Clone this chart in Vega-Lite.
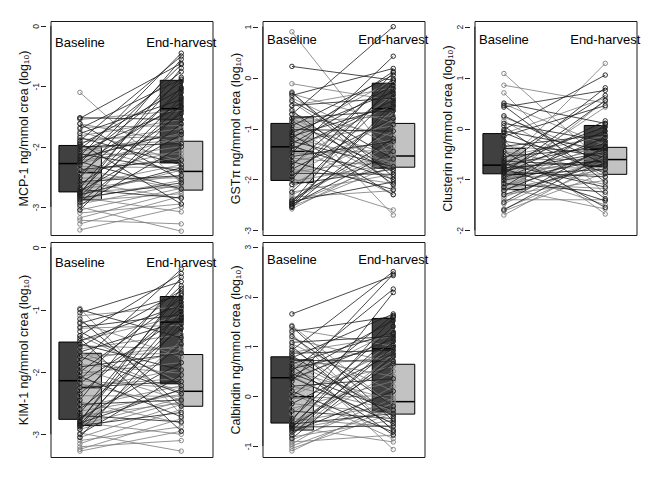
{
"$schema":"https://vega.github.io/schema/vega-lite/v6.json",
"background":"white",
"padding":{"left":16.5,"top":20,"right":5,"bottom":5},
"config":{
 "font":"Liberation Sans",
 "view":{"stroke":"#1a1a1a","strokeWidth":1},
 "axisX":{"disable":true},
 "axisY":{"domain":false,"grid":false,"offset":5,"tickSize":5,"tickColor":"#222","ticks":true,"labelAngle":-90,"labelAlign":"center","labelBaseline":"bottom","labelFontSize":8.5,"labelPadding":0,"labelColor":"#222","labelExpr":"'' + datum.value","labelFlush":false,"labelOverlap":false,"titleFontSize":12.5,"titleFontWeight":"normal","titleColor":"#111","titlePadding":1}
},
"datasets":{
"labels":[{"t":1,"name":"Baseline"},{"t":2,"name":"End-harvest"}],
"boxes":[
{"p":1,"g":"D","t":1,"q1":-2.75,"med":-2.28,"q3":-1.98},{"p":1,"g":"L","t":1,"q1":-2.88,"med":-2.43,"q3":-2.00},{"p":1,"g":"D","t":2,"q1":-2.27,"med":-1.37,"q3":-0.90},{"p":1,"g":"L","t":2,"q1":-2.72,"med":-2.41,"q3":-1.91},
{"p":2,"g":"D","t":1,"q1":-2.02,"med":-1.36,"q3":-0.90},{"p":2,"g":"L","t":1,"q1":-2.06,"med":-1.45,"q3":-0.77},{"p":2,"g":"D","t":2,"q1":-1.78,"med":-0.61,"q3":-0.11},{"p":2,"g":"L","t":2,"q1":-1.76,"med":-1.54,"q3":-0.90},
{"p":3,"g":"D","t":1,"q1":-0.89,"med":-0.72,"q3":-0.10},{"p":3,"g":"L","t":1,"q1":-1.20,"med":-0.90,"q3":-0.39},{"p":3,"g":"D","t":2,"q1":-0.75,"med":-0.41,"q3":0.06},{"p":3,"g":"L","t":2,"q1":-0.90,"med":-0.61,"q3":-0.37},
{"p":4,"g":"D","t":1,"q1":-2.76,"med":-2.14,"q3":-1.52},{"p":4,"g":"L","t":1,"q1":-2.86,"med":-2.25,"q3":-1.70},{"p":4,"g":"D","t":2,"q1":-2.19,"med":-1.20,"q3":-0.79},{"p":4,"g":"L","t":2,"q1":-2.55,"med":-2.31,"q3":-1.72},
{"p":5,"g":"D","t":1,"q1":-0.54,"med":0.37,"q3":0.79},{"p":5,"g":"L","t":1,"q1":-0.68,"med":-0.01,"q3":0.73},{"p":5,"g":"D","t":2,"q1":-0.32,"med":0.95,"q3":1.56},{"p":5,"g":"L","t":2,"q1":-0.36,"med":-0.11,"q3":0.64}
],
"pairs":[
{"p":1,"g":"D","b":-1.52,"e":-1.55},{"p":1,"g":"D","b":-1.53,"e":-0.62},{"p":1,"g":"D","b":-1.62,"e":-2.55},{"p":1,"g":"D","b":-1.70,"e":-0.88},{"p":1,"g":"D","b":-1.78,"e":-1.22},{"p":1,"g":"D","b":-1.85,"e":-2.30},{"p":1,"g":"D","b":-1.90,"e":-0.50},{"p":1,"g":"D","b":-1.94,"e":-2.95},{"p":1,"g":"D","b":-1.97,"e":-1.05},{"p":1,"g":"D","b":-2.00,"e":-1.95},{"p":1,"g":"D","b":-2.04,"e":-0.76},{"p":1,"g":"D","b":-2.08,"e":-1.35},{"p":1,"g":"D","b":-2.12,"e":-2.40},{"p":1,"g":"D","b":-2.16,"e":-0.45},{"p":1,"g":"D","b":-2.19,"e":-1.75},{"p":1,"g":"D","b":-2.22,"e":-0.92},{"p":1,"g":"D","b":-2.25,"e":-2.70},{"p":1,"g":"D","b":-2.27,"e":-0.64},{"p":1,"g":"D","b":-2.30,"e":-1.27},{"p":1,"g":"D","b":-2.38,"e":-2.22},{"p":1,"g":"D","b":-2.45,"e":-1.10},{"p":1,"g":"D","b":-2.52,"e":-0.55},{"p":1,"g":"D","b":-2.58,"e":-2.48},{"p":1,"g":"D","b":-2.63,"e":-1.45},{"p":1,"g":"D","b":-2.68,"e":-0.85},{"p":1,"g":"D","b":-2.71,"e":-2.85},{"p":1,"g":"D","b":-2.74,"e":-1.80},{"p":1,"g":"D","b":-2.76,"e":-1.02},{"p":1,"g":"D","b":-2.78,"e":-0.70},{"p":1,"g":"D","b":-2.80,"e":-2.35},{"p":1,"g":"D","b":-2.82,"e":-1.32},{"p":1,"g":"D","b":-2.85,"e":-2.60},{"p":1,"g":"D","b":-2.88,"e":-1.18},{"p":1,"g":"D","b":-2.92,"e":-1.62},{"p":1,"g":"D","b":-2.97,"e":-2.00},{"p":1,"g":"D","b":-3.05,"e":-1.40},
{"p":1,"g":"L","b":-1.10,"e":-2.60},{"p":1,"g":"L","b":-1.55,"e":-1.40},{"p":1,"g":"L","b":-1.62,"e":-1.94},{"p":1,"g":"L","b":-1.68,"e":-1.65},{"p":1,"g":"L","b":-1.75,"e":-2.24},{"p":1,"g":"L","b":-1.82,"e":-1.55},{"p":1,"g":"L","b":-1.88,"e":-1.82},{"p":1,"g":"L","b":-1.93,"e":-1.70},{"p":1,"g":"L","b":-1.98,"e":-2.43},{"p":1,"g":"L","b":-2.02,"e":-1.89},{"p":1,"g":"L","b":-2.08,"e":-1.78},{"p":1,"g":"L","b":-2.13,"e":-2.12},{"p":1,"g":"L","b":-2.18,"e":-1.75},{"p":1,"g":"L","b":-2.23,"e":-2.00},{"p":1,"g":"L","b":-2.28,"e":-1.86},{"p":1,"g":"L","b":-2.33,"e":-2.35},{"p":1,"g":"L","b":-2.37,"e":-2.71},{"p":1,"g":"L","b":-2.41,"e":-2.18},{"p":1,"g":"L","b":-2.45,"e":-2.06},{"p":1,"g":"L","b":-2.52,"e":-2.52},{"p":1,"g":"L","b":-2.58,"e":-2.86},{"p":1,"g":"L","b":-2.64,"e":-2.30},{"p":1,"g":"L","b":-2.70,"e":-2.48},{"p":1,"g":"L","b":-2.75,"e":-2.66},{"p":1,"g":"L","b":-2.80,"e":-2.39},{"p":1,"g":"L","b":-2.84,"e":-3.08},{"p":1,"g":"L","b":-2.87,"e":-2.56},{"p":1,"g":"L","b":-2.90,"e":-2.78},{"p":1,"g":"L","b":-2.95,"e":-2.63},{"p":1,"g":"L","b":-3.00,"e":-3.40},{"p":1,"g":"L","b":-3.05,"e":-2.69},{"p":1,"g":"L","b":-3.10,"e":-2.95},{"p":1,"g":"L","b":-3.18,"e":-2.74},{"p":1,"g":"L","b":-3.22,"e":-3.28},{"p":1,"g":"L","b":-3.28,"e":-2.82},{"p":1,"g":"L","b":-3.38,"e":-3.00},
{"p":2,"g":"D","b":0.22,"e":-0.05},{"p":2,"g":"D","b":-0.30,"e":-1.95},{"p":2,"g":"D","b":-0.35,"e":0.18},{"p":2,"g":"D","b":-0.45,"e":-1.60},{"p":2,"g":"D","b":-0.55,"e":-0.40},{"p":2,"g":"D","b":-0.65,"e":-2.10},{"p":2,"g":"D","b":-0.72,"e":1.00},{"p":2,"g":"D","b":-0.80,"e":-0.65},{"p":2,"g":"D","b":-0.86,"e":-1.85},{"p":2,"g":"D","b":-0.95,"e":0.05},{"p":2,"g":"D","b":-1.02,"e":-1.05},{"p":2,"g":"D","b":-1.08,"e":-0.28},{"p":2,"g":"D","b":-1.12,"e":-2.30},{"p":2,"g":"D","b":-1.15,"e":-0.55},{"p":2,"g":"D","b":-1.20,"e":0.12},{"p":2,"g":"D","b":-1.25,"e":-1.75},{"p":2,"g":"D","b":-1.30,"e":-0.15},{"p":2,"g":"D","b":-1.34,"e":-2.00},{"p":2,"g":"D","b":-1.40,"e":-0.45},{"p":2,"g":"D","b":-1.48,"e":0.42},{"p":2,"g":"D","b":-1.55,"e":-1.25},{"p":2,"g":"D","b":-1.65,"e":-2.20},{"p":2,"g":"D","b":-1.72,"e":-0.02},{"p":2,"g":"D","b":-1.80,"e":-0.80},{"p":2,"g":"D","b":-1.88,"e":-1.90},{"p":2,"g":"D","b":-1.95,"e":-0.22},{"p":2,"g":"D","b":-2.00,"e":0.10},{"p":2,"g":"D","b":-2.10,"e":-1.80},{"p":2,"g":"D","b":-2.25,"e":-0.33},{"p":2,"g":"D","b":-2.40,"e":-1.20},{"p":2,"g":"D","b":-2.43,"e":-2.05},{"p":2,"g":"D","b":-2.46,"e":-0.09},{"p":2,"g":"D","b":-2.48,"e":-0.59},{"p":2,"g":"D","b":-2.50,"e":-1.45},{"p":2,"g":"D","b":-2.53,"e":-0.50},{"p":2,"g":"D","b":-2.55,"e":-0.92},
{"p":2,"g":"L","b":0.90,"e":-1.61},{"p":2,"g":"L","b":-0.12,"e":-0.45},{"p":2,"g":"L","b":-0.28,"e":-2.15},{"p":2,"g":"L","b":-0.32,"e":-0.88},{"p":2,"g":"L","b":-0.40,"e":-1.35},{"p":2,"g":"L","b":-0.48,"e":-1.80},{"p":2,"g":"L","b":-0.55,"e":-0.20},{"p":2,"g":"L","b":-0.62,"e":-2.70},{"p":2,"g":"L","b":-0.72,"e":-1.15},{"p":2,"g":"L","b":-0.80,"e":-1.71},{"p":2,"g":"L","b":-0.88,"e":-0.75},{"p":2,"g":"L","b":-0.95,"e":-1.52},{"p":2,"g":"L","b":-1.02,"e":-2.00},{"p":2,"g":"L","b":-1.10,"e":-0.05},{"p":2,"g":"L","b":-1.18,"e":-1.67},{"p":2,"g":"L","b":-1.25,"e":-0.95},{"p":2,"g":"L","b":-1.32,"e":-2.30},{"p":2,"g":"L","b":-1.40,"e":-0.55},{"p":2,"g":"L","b":-1.50,"e":-1.42},{"p":2,"g":"L","b":-1.58,"e":-1.75},{"p":2,"g":"L","b":-1.65,"e":-1.22},{"p":2,"g":"L","b":-1.72,"e":-0.35},{"p":2,"g":"L","b":-1.80,"e":-2.08},{"p":2,"g":"L","b":-1.86,"e":-1.58},{"p":2,"g":"L","b":-1.92,"e":-0.82},{"p":2,"g":"L","b":-1.98,"e":-2.60},{"p":2,"g":"L","b":-2.04,"e":-1.69},{"p":2,"g":"L","b":-2.10,"e":-1.05},{"p":2,"g":"L","b":-2.18,"e":-0.65},{"p":2,"g":"L","b":-2.25,"e":-1.90},{"p":2,"g":"L","b":-2.30,"e":-1.48},{"p":2,"g":"L","b":-2.35,"e":-2.22},{"p":2,"g":"L","b":-2.42,"e":-1.28},{"p":2,"g":"L","b":-2.48,"e":-1.64},{"p":2,"g":"L","b":-2.53,"e":-1.73},{"p":2,"g":"L","b":-2.58,"e":-1.56},
{"p":3,"g":"D","b":0.50,"e":0.10},{"p":3,"g":"D","b":0.45,"e":-1.05},{"p":3,"g":"D","b":0.42,"e":0.75},{"p":3,"g":"D","b":0.25,"e":-0.71},{"p":3,"g":"D","b":0.10,"e":-0.25},{"p":3,"g":"D","b":0.05,"e":-1.38},{"p":3,"g":"D","b":-0.02,"e":1.05},{"p":3,"g":"D","b":-0.05,"e":-0.43},{"p":3,"g":"D","b":-0.08,"e":-0.88},{"p":3,"g":"D","b":-0.15,"e":0.45},{"p":3,"g":"D","b":-0.25,"e":-0.56},{"p":3,"g":"D","b":-0.35,"e":-0.12},{"p":3,"g":"D","b":-0.45,"e":-1.55},{"p":3,"g":"D","b":-0.55,"e":-0.38},{"p":3,"g":"D","b":-0.60,"e":0.65},{"p":3,"g":"D","b":-0.64,"e":-0.74},{"p":3,"g":"D","b":-0.67,"e":0.03},{"p":3,"g":"D","b":-0.70,"e":-1.15},{"p":3,"g":"D","b":-0.73,"e":-0.30},{"p":3,"g":"D","b":-0.75,"e":0.80},{"p":3,"g":"D","b":-0.77,"e":-0.64},{"p":3,"g":"D","b":-0.79,"e":-1.42},{"p":3,"g":"D","b":-0.81,"e":0.15},{"p":3,"g":"D","b":-0.83,"e":-0.47},{"p":3,"g":"D","b":-0.85,"e":-0.95},{"p":3,"g":"D","b":-0.87,"e":-0.05},{"p":3,"g":"D","b":-0.88,"e":0.55},{"p":3,"g":"D","b":-0.92,"e":-0.80},{"p":3,"g":"D","b":-0.97,"e":-0.18},{"p":3,"g":"D","b":-1.02,"e":-0.60},{"p":3,"g":"D","b":-1.08,"e":-1.25},{"p":3,"g":"D","b":-1.15,"e":0.08},{"p":3,"g":"D","b":-1.22,"e":-0.40},{"p":3,"g":"D","b":-1.30,"e":-0.68},{"p":3,"g":"D","b":-1.45,"e":-0.35},{"p":3,"g":"D","b":-1.60,"e":-0.52},
{"p":3,"g":"L","b":1.08,"e":-0.70},{"p":3,"g":"L","b":0.85,"e":0.50},{"p":3,"g":"L","b":0.70,"e":-1.30},{"p":3,"g":"L","b":0.48,"e":-0.33},{"p":3,"g":"L","b":0.22,"e":-0.56},{"p":3,"g":"L","b":0.15,"e":-0.95},{"p":3,"g":"L","b":-0.10,"e":0.60},{"p":3,"g":"L","b":-0.25,"e":-1.68},{"p":3,"g":"L","b":-0.35,"e":-0.48},{"p":3,"g":"L","b":-0.45,"e":-0.84},{"p":3,"g":"L","b":-0.55,"e":-0.15},{"p":3,"g":"L","b":-0.62,"e":-0.60},{"p":3,"g":"L","b":-0.68,"e":-1.10},{"p":3,"g":"L","b":-0.73,"e":1.28},{"p":3,"g":"L","b":-0.78,"e":-0.77},{"p":3,"g":"L","b":-0.82,"e":-0.40},{"p":3,"g":"L","b":-0.86,"e":-1.50},{"p":3,"g":"L","b":-0.89,"e":0.42},{"p":3,"g":"L","b":-0.92,"e":-0.58},{"p":3,"g":"L","b":-0.96,"e":-0.89},{"p":3,"g":"L","b":-1.00,"e":-0.51},{"p":3,"g":"L","b":-1.04,"e":0.55},{"p":3,"g":"L","b":-1.08,"e":-1.18},{"p":3,"g":"L","b":-1.12,"e":-0.66},{"p":3,"g":"L","b":-1.15,"e":-0.25},{"p":3,"g":"L","b":-1.17,"e":-1.58},{"p":3,"g":"L","b":-1.19,"e":-0.80},{"p":3,"g":"L","b":-1.22,"e":-0.44},{"p":3,"g":"L","b":-1.26,"e":0.10},{"p":3,"g":"L","b":-1.30,"e":-1.02},{"p":3,"g":"L","b":-1.35,"e":-0.59},{"p":3,"g":"L","b":-1.40,"e":-1.40},{"p":3,"g":"L","b":-1.48,"e":-0.54},{"p":3,"g":"L","b":-1.58,"e":-0.73},{"p":3,"g":"L","b":-1.62,"e":-0.87},{"p":3,"g":"L","b":-1.70,"e":-0.63},
{"p":4,"g":"D","b":-1.00,"e":-1.45},{"p":4,"g":"D","b":-1.05,"e":-0.55},{"p":4,"g":"D","b":-1.15,"e":-2.55},{"p":4,"g":"D","b":-1.22,"e":-0.77},{"p":4,"g":"D","b":-1.28,"e":-1.08},{"p":4,"g":"D","b":-1.35,"e":-2.22},{"p":4,"g":"D","b":-1.42,"e":-0.42},{"p":4,"g":"D","b":-1.46,"e":-2.95},{"p":4,"g":"D","b":-1.50,"e":-0.93},{"p":4,"g":"D","b":-1.55,"e":-1.97},{"p":4,"g":"D","b":-1.60,"e":-0.70},{"p":4,"g":"D","b":-1.68,"e":-1.18},{"p":4,"g":"D","b":-1.75,"e":-2.35},{"p":4,"g":"D","b":-1.85,"e":-0.35},{"p":4,"g":"D","b":-1.92,"e":-1.70},{"p":4,"g":"D","b":-2.00,"e":-0.82},{"p":4,"g":"D","b":-2.07,"e":-2.72},{"p":4,"g":"D","b":-2.12,"e":-0.62},{"p":4,"g":"D","b":-2.18,"e":-1.12},{"p":4,"g":"D","b":-2.25,"e":-2.15},{"p":4,"g":"D","b":-2.35,"e":-0.98},{"p":4,"g":"D","b":-2.45,"e":-0.48},{"p":4,"g":"D","b":-2.52,"e":-2.45},{"p":4,"g":"D","b":-2.60,"e":-1.30},{"p":4,"g":"D","b":-2.66,"e":-0.74},{"p":4,"g":"D","b":-2.70,"e":-2.80},{"p":4,"g":"D","b":-2.74,"e":-1.85},{"p":4,"g":"D","b":-2.78,"e":-0.88},{"p":4,"g":"D","b":-2.80,"e":-0.66},{"p":4,"g":"D","b":-2.82,"e":-2.28},{"p":4,"g":"D","b":-2.84,"e":-1.15},{"p":4,"g":"D","b":-2.86,"e":-2.65},{"p":4,"g":"D","b":-2.88,"e":-1.03},{"p":4,"g":"D","b":-2.92,"e":-1.55},{"p":4,"g":"D","b":-3.00,"e":-2.05},{"p":4,"g":"D","b":-3.05,"e":-1.22},
{"p":4,"g":"L","b":-0.98,"e":-2.68},{"p":4,"g":"L","b":-1.10,"e":-0.95},{"p":4,"g":"L","b":-1.20,"e":-1.76},{"p":4,"g":"L","b":-1.30,"e":-1.25},{"p":4,"g":"L","b":-1.42,"e":-2.17},{"p":4,"g":"L","b":-1.50,"e":-1.10},{"p":4,"g":"L","b":-1.58,"e":-1.63},{"p":4,"g":"L","b":-1.63,"e":-1.40},{"p":4,"g":"L","b":-1.68,"e":-2.33},{"p":4,"g":"L","b":-1.73,"e":-1.70},{"p":4,"g":"L","b":-1.80,"e":-1.58},{"p":4,"g":"L","b":-1.88,"e":-2.02},{"p":4,"g":"L","b":-1.95,"e":-2.45},{"p":4,"g":"L","b":-2.02,"e":-1.85},{"p":4,"g":"L","b":-2.08,"e":-1.67},{"p":4,"g":"L","b":-2.14,"e":-2.26},{"p":4,"g":"L","b":-2.19,"e":-2.54},{"p":4,"g":"L","b":-2.23,"e":-2.10},{"p":4,"g":"L","b":-2.28,"e":-1.95},{"p":4,"g":"L","b":-2.38,"e":-2.39},{"p":4,"g":"L","b":-2.48,"e":-2.82},{"p":4,"g":"L","b":-2.56,"e":-2.22},{"p":4,"g":"L","b":-2.63,"e":-2.36},{"p":4,"g":"L","b":-2.70,"e":-2.50},{"p":4,"g":"L","b":-2.76,"e":-2.29},{"p":4,"g":"L","b":-2.81,"e":-3.00},{"p":4,"g":"L","b":-2.85,"e":-2.42},{"p":4,"g":"L","b":-2.88,"e":-1.50},{"p":4,"g":"L","b":-2.92,"e":-2.47},{"p":4,"g":"L","b":-2.98,"e":-3.27},{"p":4,"g":"L","b":-3.05,"e":-2.52},{"p":4,"g":"L","b":-3.10,"e":-2.88},{"p":4,"g":"L","b":-3.15,"e":-2.60},{"p":4,"g":"L","b":-3.20,"e":-3.10},{"p":4,"g":"L","b":-3.24,"e":-2.75},{"p":4,"g":"L","b":-3.27,"e":-2.95},
{"p":5,"g":"D","b":1.65,"e":2.42},{"p":5,"g":"D","b":1.40,"e":-0.50},{"p":5,"g":"D","b":1.30,"e":1.60},{"p":5,"g":"D","b":1.20,"e":-0.20},{"p":5,"g":"D","b":1.08,"e":1.20},{"p":5,"g":"D","b":1.00,"e":-0.68},{"p":5,"g":"D","b":0.92,"e":2.50},{"p":5,"g":"D","b":0.86,"e":0.92},{"p":5,"g":"D","b":0.81,"e":-0.40},{"p":5,"g":"D","b":0.77,"e":1.65},{"p":5,"g":"D","b":0.72,"e":0.70},{"p":5,"g":"D","b":0.65,"e":1.28},{"p":5,"g":"D","b":0.60,"e":-0.78},{"p":5,"g":"D","b":0.55,"e":1.02},{"p":5,"g":"D","b":0.50,"e":2.15},{"p":5,"g":"D","b":0.45,"e":-0.28},{"p":5,"g":"D","b":0.40,"e":1.52},{"p":5,"g":"D","b":0.38,"e":-0.55},{"p":5,"g":"D","b":0.35,"e":1.15},{"p":5,"g":"D","b":0.30,"e":2.45},{"p":5,"g":"D","b":0.20,"e":0.35},{"p":5,"g":"D","b":0.10,"e":-0.72},{"p":5,"g":"D","b":0.00,"e":1.62},{"p":5,"g":"D","b":-0.15,"e":0.85},{"p":5,"g":"D","b":-0.30,"e":-0.45},{"p":5,"g":"D","b":-0.45,"e":1.40},{"p":5,"g":"D","b":-0.50,"e":2.08},{"p":5,"g":"D","b":-0.56,"e":-0.35},{"p":5,"g":"D","b":-0.58,"e":1.25},{"p":5,"g":"D","b":-0.60,"e":0.65},{"p":5,"g":"D","b":-0.62,"e":-0.60},{"p":5,"g":"D","b":-0.65,"e":1.58},{"p":5,"g":"D","b":-0.68,"e":0.98},{"p":5,"g":"D","b":-0.72,"e":0.10},{"p":5,"g":"D","b":-0.78,"e":1.10},{"p":5,"g":"D","b":-0.85,"e":0.80},
{"p":5,"g":"L","b":1.42,"e":-0.21},{"p":5,"g":"L","b":1.35,"e":1.00},{"p":5,"g":"L","b":1.25,"e":-0.70},{"p":5,"g":"L","b":1.15,"e":0.67},{"p":5,"g":"L","b":1.05,"e":0.10},{"p":5,"g":"L","b":0.95,"e":-0.40},{"p":5,"g":"L","b":0.88,"e":1.20},{"p":5,"g":"L","b":0.82,"e":-1.07},{"p":5,"g":"L","b":0.76,"e":0.40},{"p":5,"g":"L","b":0.70,"e":-0.32},{"p":5,"g":"L","b":0.60,"e":0.78},{"p":5,"g":"L","b":0.50,"e":-0.09},{"p":5,"g":"L","b":0.40,"e":-0.55},{"p":5,"g":"L","b":0.30,"e":1.30},{"p":5,"g":"L","b":0.20,"e":-0.28},{"p":5,"g":"L","b":0.12,"e":0.60},{"p":5,"g":"L","b":0.05,"e":-0.85},{"p":5,"g":"L","b":0.01,"e":0.92},{"p":5,"g":"L","b":-0.05,"e":0.02},{"p":5,"g":"L","b":-0.15,"e":-0.35},{"p":5,"g":"L","b":-0.25,"e":0.30},{"p":5,"g":"L","b":-0.35,"e":1.10},{"p":5,"g":"L","b":-0.45,"e":-0.62},{"p":5,"g":"L","b":-0.52,"e":-0.17},{"p":5,"g":"L","b":-0.58,"e":0.72},{"p":5,"g":"L","b":-0.62,"e":-0.92},{"p":5,"g":"L","b":-0.66,"e":-0.30},{"p":5,"g":"L","b":-0.72,"e":0.50},{"p":5,"g":"L","b":-0.78,"e":0.85},{"p":5,"g":"L","b":-0.82,"e":-0.48},{"p":5,"g":"L","b":-0.88,"e":-0.05},{"p":5,"g":"L","b":-0.92,"e":-0.78},{"p":5,"g":"L","b":-0.96,"e":0.20},{"p":5,"g":"L","b":-1.00,"e":-0.25},{"p":5,"g":"L","b":-1.05,"e":-0.34},{"p":5,"g":"L","b":-1.10,"e":-0.13}
]
},
"spacing":5,
"vconcat":[
{"hconcat":[
{"width":162,"height":214,"layer":[
 {"data":{"name":"boxes"},"transform":[{"filter":"datum.p==1&&datum.g=='D'"}],"mark":{"type":"bar","width":22,"xOffset":-10,"fill":"#404040","stroke":"#000","strokeWidth":1},"encoding":{"x":{"field":"t","type":"quantitative","scale":{"domain":[0.759,2.259],"nice":false,"zero":false}},"y":{"field":"q1","type":"quantitative","scale":{"domain":[-3.464,0.083],"nice":false,"zero":false},"axis":{"title":"MCP-1 ng/mmol crea (log₁₀)","values":[0,-1,-2,-3]}},"y2":{"field":"q3"}}},
 {"data":{"name":"boxes"},"transform":[{"filter":"datum.p==1&&datum.g=='L'"}],"mark":{"type":"bar","width":22,"xOffset":10.5,"fill":"#c2c2c2","stroke":"#000","strokeWidth":1},"encoding":{"x":{"field":"t","type":"quantitative"},"y":{"field":"q1","type":"quantitative"},"y2":{"field":"q3"}}},
 {"data":{"name":"boxes"},"transform":[{"filter":"datum.p==1&&datum.g=='D'"}],"mark":{"type":"tick","orient":"horizontal","size":22,"thickness":1.5,"xOffset":-10,"color":"#000","opacity":1},"encoding":{"x":{"field":"t","type":"quantitative"},"y":{"field":"med","type":"quantitative"}}},
 {"data":{"name":"boxes"},"transform":[{"filter":"datum.p==1&&datum.g=='L'"}],"mark":{"type":"tick","orient":"horizontal","size":22,"thickness":1.5,"xOffset":10.5,"color":"#000","opacity":1},"encoding":{"x":{"field":"t","type":"quantitative"},"y":{"field":"med","type":"quantitative"}}},
 {"data":{"name":"pairs"},"transform":[{"filter":"datum.p==1"}],"mark":{"type":"rule","strokeWidth":0.8},"encoding":{"x":{"datum":1},"x2":{"datum":2},"y":{"field":"b","type":"quantitative"},"y2":{"field":"e"},"color":{"field":"g","type":"nominal","scale":{"domain":["D","L"],"range":["#1a1a1a","#7a7a7a"]},"legend":null},"order":{"field":"g","sort":"descending"}}},
 {"data":{"name":"pairs"},"transform":[{"filter":"datum.p==1"}],"mark":{"type":"point","filled":false,"size":20,"strokeWidth":0.9,"opacity":1},"encoding":{"x":{"datum":1},"y":{"field":"b","type":"quantitative"},"color":{"field":"g","type":"nominal","scale":{"domain":["D","L"],"range":["#1a1a1a","#7a7a7a"]},"legend":null},"order":{"field":"g","sort":"descending"}}},
 {"data":{"name":"pairs"},"transform":[{"filter":"datum.p==1"}],"mark":{"type":"point","filled":false,"size":20,"strokeWidth":0.9,"opacity":1},"encoding":{"x":{"datum":2},"y":{"field":"e","type":"quantitative"},"color":{"field":"g","type":"nominal","scale":{"domain":["D","L"],"range":["#1a1a1a","#7a7a7a"]},"legend":null},"order":{"field":"g","sort":"descending"}}},
 {"data":{"name":"labels"},"mark":{"type":"text","fontSize":13,"baseline":"middle","align":"center","color":"#000"},"encoding":{"x":{"field":"t","type":"quantitative"},"y":{"datum":-0.277},"text":{"field":"name"}}},
 {"data":{"values":[{}]},"mark":{"type":"rule","color":"#222","strokeWidth":1},"encoding":{"x":{"datum":0.713},"y":{"datum":0},"y2":{"datum":-3}}}
]},
{"width":162,"height":214,"layer":[
 {"data":{"name":"boxes"},"transform":[{"filter":"datum.p==2&&datum.g=='D'"}],"mark":{"type":"bar","width":22,"xOffset":-10,"fill":"#404040","stroke":"#000","strokeWidth":1},"encoding":{"x":{"field":"t","type":"quantitative","scale":{"domain":[0.759,2.259],"nice":false,"zero":false}},"y":{"field":"q1","type":"quantitative","scale":{"domain":[-3.092,1.112],"nice":false,"zero":false},"axis":{"title":"GSTπ ng/mmol crea (log₁₀)","values":[1,0,-1,-2,-3]}},"y2":{"field":"q3"}}},
 {"data":{"name":"boxes"},"transform":[{"filter":"datum.p==2&&datum.g=='L'"}],"mark":{"type":"bar","width":22,"xOffset":10.5,"fill":"#c2c2c2","stroke":"#000","strokeWidth":1},"encoding":{"x":{"field":"t","type":"quantitative"},"y":{"field":"q1","type":"quantitative"},"y2":{"field":"q3"}}},
 {"data":{"name":"boxes"},"transform":[{"filter":"datum.p==2&&datum.g=='D'"}],"mark":{"type":"tick","orient":"horizontal","size":22,"thickness":1.5,"xOffset":-10,"color":"#000","opacity":1},"encoding":{"x":{"field":"t","type":"quantitative"},"y":{"field":"med","type":"quantitative"}}},
 {"data":{"name":"boxes"},"transform":[{"filter":"datum.p==2&&datum.g=='L'"}],"mark":{"type":"tick","orient":"horizontal","size":22,"thickness":1.5,"xOffset":10.5,"color":"#000","opacity":1},"encoding":{"x":{"field":"t","type":"quantitative"},"y":{"field":"med","type":"quantitative"}}},
 {"data":{"name":"pairs"},"transform":[{"filter":"datum.p==2"}],"mark":{"type":"rule","strokeWidth":0.8},"encoding":{"x":{"datum":1},"x2":{"datum":2},"y":{"field":"b","type":"quantitative"},"y2":{"field":"e"},"color":{"field":"g","type":"nominal","scale":{"domain":["D","L"],"range":["#1a1a1a","#7a7a7a"]},"legend":null},"order":{"field":"g","sort":"descending"}}},
 {"data":{"name":"pairs"},"transform":[{"filter":"datum.p==2"}],"mark":{"type":"point","filled":false,"size":20,"strokeWidth":0.9,"opacity":1},"encoding":{"x":{"datum":1},"y":{"field":"b","type":"quantitative"},"color":{"field":"g","type":"nominal","scale":{"domain":["D","L"],"range":["#1a1a1a","#7a7a7a"]},"legend":null},"order":{"field":"g","sort":"descending"}}},
 {"data":{"name":"pairs"},"transform":[{"filter":"datum.p==2"}],"mark":{"type":"point","filled":false,"size":20,"strokeWidth":0.9,"opacity":1},"encoding":{"x":{"datum":2},"y":{"field":"e","type":"quantitative"},"color":{"field":"g","type":"nominal","scale":{"domain":["D","L"],"range":["#1a1a1a","#7a7a7a"]},"legend":null},"order":{"field":"g","sort":"descending"}}},
 {"data":{"name":"labels"},"mark":{"type":"text","fontSize":13,"baseline":"middle","align":"center","color":"#000"},"encoding":{"x":{"field":"t","type":"quantitative"},"y":{"datum":0.733},"text":{"field":"name"}}},
 {"data":{"values":[{}]},"mark":{"type":"rule","color":"#222","strokeWidth":1},"encoding":{"x":{"datum":0.713},"y":{"datum":1},"y2":{"datum":-3}}}
]},
{"width":162,"height":214,"layer":[
 {"data":{"name":"boxes"},"transform":[{"filter":"datum.p==3&&datum.g=='D'"}],"mark":{"type":"bar","width":22,"xOffset":-10,"fill":"#404040","stroke":"#000","strokeWidth":1},"encoding":{"x":{"field":"t","type":"quantitative","scale":{"domain":[0.759,2.259],"nice":false,"zero":false}},"y":{"field":"q1","type":"quantitative","scale":{"domain":[-2.092,2.112],"nice":false,"zero":false},"axis":{"title":"Clusterin ng/mmol crea (log₁₀)","values":[2,1,0,-1,-2]}},"y2":{"field":"q3"}}},
 {"data":{"name":"boxes"},"transform":[{"filter":"datum.p==3&&datum.g=='L'"}],"mark":{"type":"bar","width":22,"xOffset":10.5,"fill":"#c2c2c2","stroke":"#000","strokeWidth":1},"encoding":{"x":{"field":"t","type":"quantitative"},"y":{"field":"q1","type":"quantitative"},"y2":{"field":"q3"}}},
 {"data":{"name":"boxes"},"transform":[{"filter":"datum.p==3&&datum.g=='D'"}],"mark":{"type":"tick","orient":"horizontal","size":22,"thickness":1.5,"xOffset":-10,"color":"#000","opacity":1},"encoding":{"x":{"field":"t","type":"quantitative"},"y":{"field":"med","type":"quantitative"}}},
 {"data":{"name":"boxes"},"transform":[{"filter":"datum.p==3&&datum.g=='L'"}],"mark":{"type":"tick","orient":"horizontal","size":22,"thickness":1.5,"xOffset":10.5,"color":"#000","opacity":1},"encoding":{"x":{"field":"t","type":"quantitative"},"y":{"field":"med","type":"quantitative"}}},
 {"data":{"name":"pairs"},"transform":[{"filter":"datum.p==3"}],"mark":{"type":"rule","strokeWidth":0.8},"encoding":{"x":{"datum":1},"x2":{"datum":2},"y":{"field":"b","type":"quantitative"},"y2":{"field":"e"},"color":{"field":"g","type":"nominal","scale":{"domain":["D","L"],"range":["#1a1a1a","#7a7a7a"]},"legend":null},"order":{"field":"g","sort":"descending"}}},
 {"data":{"name":"pairs"},"transform":[{"filter":"datum.p==3"}],"mark":{"type":"point","filled":false,"size":20,"strokeWidth":0.9,"opacity":1},"encoding":{"x":{"datum":1},"y":{"field":"b","type":"quantitative"},"color":{"field":"g","type":"nominal","scale":{"domain":["D","L"],"range":["#1a1a1a","#7a7a7a"]},"legend":null},"order":{"field":"g","sort":"descending"}}},
 {"data":{"name":"pairs"},"transform":[{"filter":"datum.p==3"}],"mark":{"type":"point","filled":false,"size":20,"strokeWidth":0.9,"opacity":1},"encoding":{"x":{"datum":2},"y":{"field":"e","type":"quantitative"},"color":{"field":"g","type":"nominal","scale":{"domain":["D","L"],"range":["#1a1a1a","#7a7a7a"]},"legend":null},"order":{"field":"g","sort":"descending"}}},
 {"data":{"name":"labels"},"mark":{"type":"text","fontSize":13,"baseline":"middle","align":"center","color":"#000"},"encoding":{"x":{"field":"t","type":"quantitative"},"y":{"datum":1.73},"text":{"field":"name"}}},
 {"data":{"values":[{}]},"mark":{"type":"rule","color":"#222","strokeWidth":1},"encoding":{"x":{"datum":0.713},"y":{"datum":2},"y2":{"datum":-2}}}
]}
],"spacing":50,"bounds":"flush"},
{"hconcat":[
{"width":162,"height":215,"layer":[
 {"data":{"name":"boxes"},"transform":[{"filter":"datum.p==4&&datum.g=='D'"}],"mark":{"type":"bar","width":22,"xOffset":-10,"fill":"#404040","stroke":"#000","strokeWidth":1},"encoding":{"x":{"field":"t","type":"quantitative","scale":{"domain":[0.759,2.259],"nice":false,"zero":false}},"y":{"field":"q1","type":"quantitative","scale":{"domain":[-3.364,0.085],"nice":false,"zero":false},"axis":{"title":"KIM-1 ng/mmol crea (log₁₀)","values":[0,-1,-2,-3]}},"y2":{"field":"q3"}}},
 {"data":{"name":"boxes"},"transform":[{"filter":"datum.p==4&&datum.g=='L'"}],"mark":{"type":"bar","width":22,"xOffset":10.5,"fill":"#c2c2c2","stroke":"#000","strokeWidth":1},"encoding":{"x":{"field":"t","type":"quantitative"},"y":{"field":"q1","type":"quantitative"},"y2":{"field":"q3"}}},
 {"data":{"name":"boxes"},"transform":[{"filter":"datum.p==4&&datum.g=='D'"}],"mark":{"type":"tick","orient":"horizontal","size":22,"thickness":1.5,"xOffset":-10,"color":"#000","opacity":1},"encoding":{"x":{"field":"t","type":"quantitative"},"y":{"field":"med","type":"quantitative"}}},
 {"data":{"name":"boxes"},"transform":[{"filter":"datum.p==4&&datum.g=='L'"}],"mark":{"type":"tick","orient":"horizontal","size":22,"thickness":1.5,"xOffset":10.5,"color":"#000","opacity":1},"encoding":{"x":{"field":"t","type":"quantitative"},"y":{"field":"med","type":"quantitative"}}},
 {"data":{"name":"pairs"},"transform":[{"filter":"datum.p==4"}],"mark":{"type":"rule","strokeWidth":0.8},"encoding":{"x":{"datum":1},"x2":{"datum":2},"y":{"field":"b","type":"quantitative"},"y2":{"field":"e"},"color":{"field":"g","type":"nominal","scale":{"domain":["D","L"],"range":["#1a1a1a","#7a7a7a"]},"legend":null},"order":{"field":"g","sort":"descending"}}},
 {"data":{"name":"pairs"},"transform":[{"filter":"datum.p==4"}],"mark":{"type":"point","filled":false,"size":20,"strokeWidth":0.9,"opacity":1},"encoding":{"x":{"datum":1},"y":{"field":"b","type":"quantitative"},"color":{"field":"g","type":"nominal","scale":{"domain":["D","L"],"range":["#1a1a1a","#7a7a7a"]},"legend":null},"order":{"field":"g","sort":"descending"}}},
 {"data":{"name":"pairs"},"transform":[{"filter":"datum.p==4"}],"mark":{"type":"point","filled":false,"size":20,"strokeWidth":0.9,"opacity":1},"encoding":{"x":{"datum":2},"y":{"field":"e","type":"quantitative"},"color":{"field":"g","type":"nominal","scale":{"domain":["D","L"],"range":["#1a1a1a","#7a7a7a"]},"legend":null},"order":{"field":"g","sort":"descending"}}},
 {"data":{"name":"labels"},"mark":{"type":"text","fontSize":13,"baseline":"middle","align":"center","color":"#000"},"encoding":{"x":{"field":"t","type":"quantitative"},"y":{"datum":-0.257},"text":{"field":"name"}}},
 {"data":{"values":[{}]},"mark":{"type":"rule","color":"#222","strokeWidth":1},"encoding":{"x":{"datum":0.713},"y":{"datum":0},"y2":{"datum":-3}}}
]},
{"width":162,"height":215,"layer":[
 {"data":{"name":"boxes"},"transform":[{"filter":"datum.p==5&&datum.g=='D'"}],"mark":{"type":"bar","width":22,"xOffset":-10,"fill":"#404040","stroke":"#000","strokeWidth":1},"encoding":{"x":{"field":"t","type":"quantitative","scale":{"domain":[0.759,2.259],"nice":false,"zero":false}},"y":{"field":"q1","type":"quantitative","scale":{"domain":[-1.221,3.094],"nice":false,"zero":false},"axis":{"title":"Calbindin ng/mmol crea (log₁₀)","values":[3,2,1,0,-1]}},"y2":{"field":"q3"}}},
 {"data":{"name":"boxes"},"transform":[{"filter":"datum.p==5&&datum.g=='L'"}],"mark":{"type":"bar","width":22,"xOffset":10.5,"fill":"#c2c2c2","stroke":"#000","strokeWidth":1},"encoding":{"x":{"field":"t","type":"quantitative"},"y":{"field":"q1","type":"quantitative"},"y2":{"field":"q3"}}},
 {"data":{"name":"boxes"},"transform":[{"filter":"datum.p==5&&datum.g=='D'"}],"mark":{"type":"tick","orient":"horizontal","size":22,"thickness":1.5,"xOffset":-10,"color":"#000","opacity":1},"encoding":{"x":{"field":"t","type":"quantitative"},"y":{"field":"med","type":"quantitative"}}},
 {"data":{"name":"boxes"},"transform":[{"filter":"datum.p==5&&datum.g=='L'"}],"mark":{"type":"tick","orient":"horizontal","size":22,"thickness":1.5,"xOffset":10.5,"color":"#000","opacity":1},"encoding":{"x":{"field":"t","type":"quantitative"},"y":{"field":"med","type":"quantitative"}}},
 {"data":{"name":"pairs"},"transform":[{"filter":"datum.p==5"}],"mark":{"type":"rule","strokeWidth":0.8},"encoding":{"x":{"datum":1},"x2":{"datum":2},"y":{"field":"b","type":"quantitative"},"y2":{"field":"e"},"color":{"field":"g","type":"nominal","scale":{"domain":["D","L"],"range":["#1a1a1a","#7a7a7a"]},"legend":null},"order":{"field":"g","sort":"descending"}}},
 {"data":{"name":"pairs"},"transform":[{"filter":"datum.p==5"}],"mark":{"type":"point","filled":false,"size":20,"strokeWidth":0.9,"opacity":1},"encoding":{"x":{"datum":1},"y":{"field":"b","type":"quantitative"},"color":{"field":"g","type":"nominal","scale":{"domain":["D","L"],"range":["#1a1a1a","#7a7a7a"]},"legend":null},"order":{"field":"g","sort":"descending"}}},
 {"data":{"name":"pairs"},"transform":[{"filter":"datum.p==5"}],"mark":{"type":"point","filled":false,"size":20,"strokeWidth":0.9,"opacity":1},"encoding":{"x":{"datum":2},"y":{"field":"e","type":"quantitative"},"color":{"field":"g","type":"nominal","scale":{"domain":["D","L"],"range":["#1a1a1a","#7a7a7a"]},"legend":null},"order":{"field":"g","sort":"descending"}}},
 {"data":{"name":"labels"},"mark":{"type":"text","fontSize":13,"baseline":"middle","align":"center","color":"#000"},"encoding":{"x":{"field":"t","type":"quantitative"},"y":{"datum":2.735},"text":{"field":"name"}}},
 {"data":{"values":[{}]},"mark":{"type":"rule","color":"#222","strokeWidth":1},"encoding":{"x":{"datum":0.713},"y":{"datum":3},"y2":{"datum":-1}}}
]}
],"spacing":50,"bounds":"flush"}
]
}
